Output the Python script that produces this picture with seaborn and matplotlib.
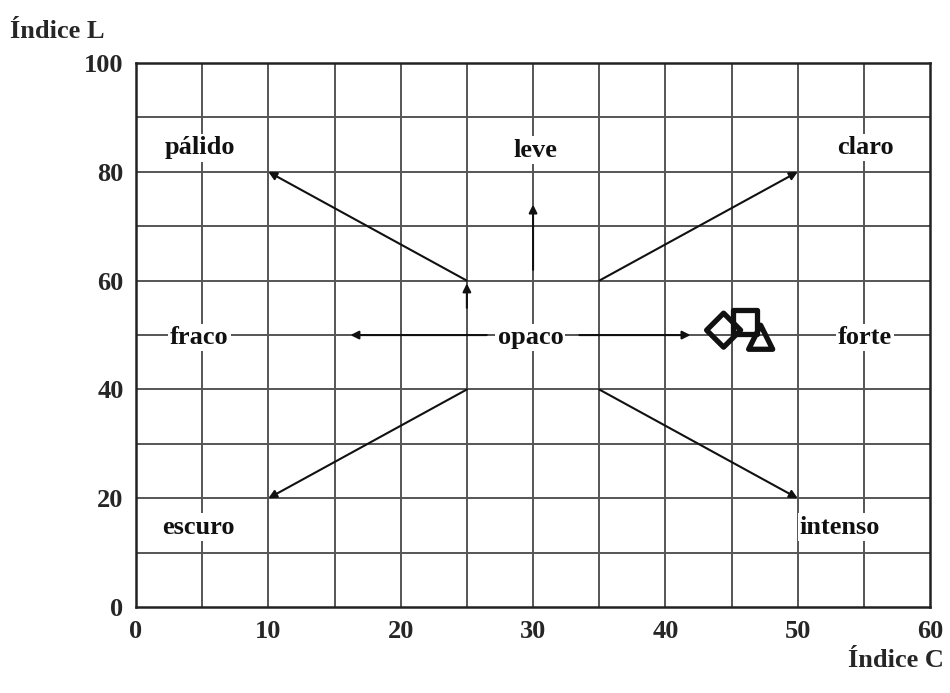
import matplotlib
matplotlib.use("Agg")
import matplotlib.pyplot as plt
import seaborn as sns
import pandas as pd

# Amostras (Índice C, Índice L)
amostras = ["A", "B", "C"]
indice_c = [44.4, 46.0, 47.2]
indice_l = [50.9, 52.4, 49.6]
marcadores = ["D", "s", "^"]

# Rótulos das regiões de cor
rotulos = ["pálido", "leve", "claro", "fraco", "opaco", "forte", "escuro", "intenso"]
rotulo_c = [4.8, 30.2, 55.1, 4.8, 29.8, 55.1, 4.7, 53.2]
rotulo_l = [84.4, 84.0, 84.5, 49.6, 49.6, 49.6, 14.7, 14.7]

# Setas (início -> fim)
setas_ini = [(25, 60), (35, 60), (25, 40), (35, 40), (30, 62), (26.5, 50), (33.5, 50), (25, 55)]
setas_fim = [(10, 80), (50, 80), (10, 20), (50, 20), (30, 74), (16.2, 50), (41.9, 50), (25, 59.5)]

x_ticks = [0, 10, 20, 30, 40, 50, 60]
y_ticks = [0, 20, 40, 60, 80, 100]

sns.set_theme(style="white")
plt.rcParams["font.family"] = ["Liberation Serif", "DejaVu Serif"]
plt.rcParams["font.weight"] = "bold"

fig = plt.figure(figsize=(9.5, 6.93), dpi=100)
ax = fig.add_axes([0.1432, 0.124, 0.8358, 0.785])

ax.set_xlim(0, 60)
ax.set_ylim(0, 100)
for gx in range(5, 60, 5):
    ax.axvline(gx, color="#555555", lw=1.4, zorder=1)
for gy in range(10, 100, 10):
    ax.axhline(gy, color="#555555", lw=1.4, zorder=1)

for (x0, y0), (x1, y1) in zip(setas_ini, setas_fim):
    ax.annotate("", xy=(x1, y1), xytext=(x0, y0),
                arrowprops=dict(arrowstyle="-|>", color="#111111", lw=1.5,
                                mutation_scale=12, shrinkA=0, shrinkB=0),
                zorder=3)

for txt, cx, ly in zip(rotulos, rotulo_c, rotulo_l):
    ax.text(cx, ly, txt, ha="center", va="center", fontsize=19, fontweight="bold",
            color="#111111", zorder=4,
            bbox=dict(facecolor="white", edgecolor="none", pad=1.5))

df = pd.DataFrame({"c": indice_c, "l": indice_l, "amostra": amostras})
sns.scatterplot(data=df, x="c", y="l", style="amostra", markers=marcadores,
                s=300, facecolor="none", edgecolor="#111111", linewidth=3.8,
                legend=False, ax=ax, zorder=5)

ax.set_xticks(x_ticks)
ax.set_yticks(y_ticks)
ax.tick_params(length=0, labelsize=19, pad=9)
for lab in ax.get_xticklabels() + ax.get_yticklabels():
    lab.set_fontweight("bold")
ax.set_xlabel("")
ax.set_ylabel("")
for sp in ax.spines.values():
    sp.set_color("#222222")
    sp.set_linewidth(1.8)

fig.text(0.011, 0.955, "Índice L", fontsize=19, fontweight="bold", ha="left", va="center")
fig.text(0.994, 0.047, "Índice C", fontsize=19, fontweight="bold", ha="right", va="center")

fig.savefig("out.png", dpi=100)
